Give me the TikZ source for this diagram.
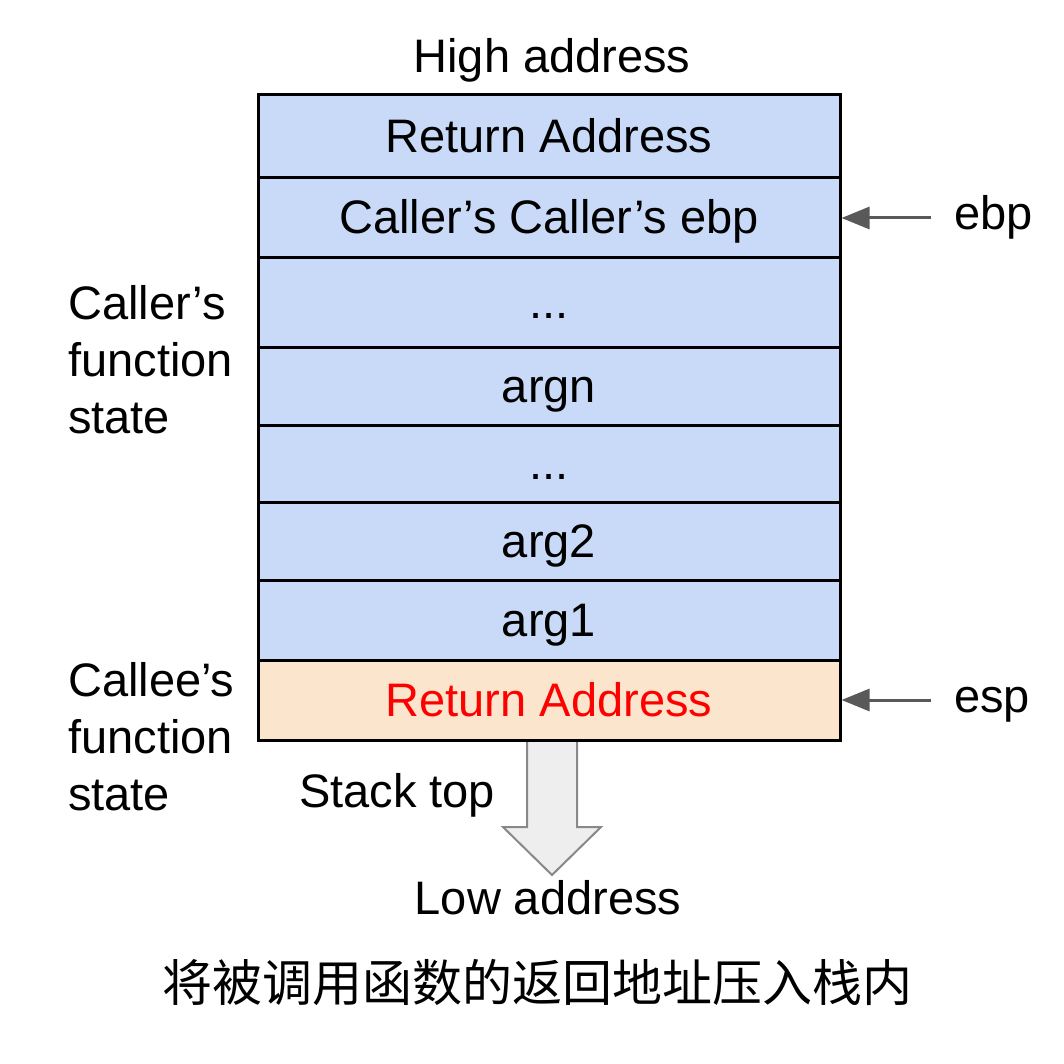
\documentclass[tikz,border=0pt]{standalone}
\usepackage{fontspec}
\setmainfont{Liberation Sans}
\newfontfamily\cjk{Noto Sans CJK SC}
\usetikzlibrary{arrows.meta}
\definecolor{rowblue}{HTML}{C9DAF8}
\definecolor{rowpeach}{HTML}{FCE5CD}
\definecolor{ptrgray}{HTML}{595959}
\definecolor{bigfill}{HTML}{EEEEEE}
\definecolor{bigdraw}{HTML}{888888}
\tikzset{
  txt/.style={font=\fontsize{47}{57}\selectfont, inner sep=0pt},
  stackrow/.style={draw=black, line width=3pt, fill=rowblue, minimum width=582pt,
    inner sep=0pt, text height=36pt, text depth=4pt, font=\fontsize{47}{57}\selectfont},
  ptr/.style={draw=ptrgray, line width=3pt, -{Triangle[length=28pt,width=22pt]}},
  reglabel/.style={txt, anchor=west, inner xsep=23pt, text height=34pt, text depth=10pt},
}
\begin{document}
\begin{tikzpicture}[x=1pt,y=-1pt]
\useasboundingbox (0,0) rectangle (1064,1064);
% big down arrow
\draw[fill=bigfill, draw=bigdraw, line width=2pt, line join=miter]
  (527,740) -- (527,827) -- (503,827) -- (552,875) -- (601,827) -- (577,827) -- (577,740);
% stack rows
\node[stackrow, minimum height=83pt] (r1) at (549,136.5) {Return Address};
\node[stackrow, minimum height=80pt] (r2) at (549,218) {Caller’s Caller’s ebp};
\node[stackrow, minimum height=89pt] (r3) at (549,302.5) {...};
\node[stackrow, minimum height=78pt] (r4) at (549,386) {argn};
\node[stackrow, minimum height=77pt] (r5) at (549,463.5) {...};
\node[stackrow, minimum height=78pt] (r6) at (549,541) {arg2};
\node[stackrow, minimum height=80pt] (r7) at (549,620) {arg1};
\node[stackrow, minimum height=80pt, fill=rowpeach, text=red] (r8) at (549,700) {Return Address};
% labels
\node[txt, anchor=base] (high) at (552,73) {High address};
\node[txt, anchor=base] (low) at (548,914) {Low address};
\node[txt, anchor=base] (stacktop) at (397,807) {Stack top};
\node[txt, anchor=north west, align=left] (callerst) at (68,285) {Caller’s\\function\\state};
\node[txt, anchor=north west, align=left] (calleest) at (68,662) {Callee’s\\function\\state};
% registers
\node[reglabel] (ebp) at (931,218) {ebp};
\node[reglabel] (esp) at (931,700) {esp};
\draw[ptr] (ebp.west) -- (r2.east);
\draw[ptr] (esp.west) -- (r8.east);
% caption
\node[inner sep=0pt, font=\cjk\fontsize{50}{60}\selectfont] (caption) at (537,983) {将被调用函数的返回地址压入栈内};
\end{tikzpicture}
\end{document}
